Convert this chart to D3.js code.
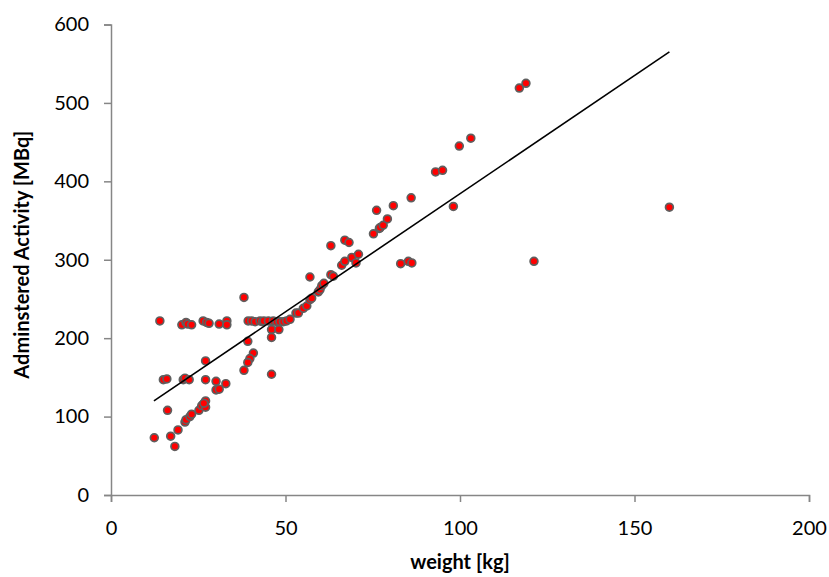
<!DOCTYPE html>
<html>
<head>
<meta charset="utf-8">
<script src="https://cdn.jsdelivr.net/npm/d3@7"></script>
<style>
  body { margin: 0; background: #fff; }
  text { font-family: Lato, "Open Sans", sans-serif; }
</style>
</head>
<body>
<div id="chart"></div>
<script>
// weight [kg] and administered activity [MBq]
var weight = [14.0, 38.1, 20.3, 21.5, 22.0, 23.1, 26.4, 27.4, 28.1, 31.0, 33.2, 33.2,
    39.3, 40.3, 41.3, 42.7, 43.4, 43.8, 45.1, 46.5, 47.5, 48.4, 49.4, 50.3, 51.3,
    53.0, 53.7, 55.1, 56.1, 57.0, 57.5, 59.4, 59.9, 60.4, 61.0, 57.0, 63.0, 63.7,
    63.0, 67.0, 68.2, 66.1, 67.0, 69.0, 70.9, 70.2, 75.2, 76.1, 76.9, 77.1, 78.0,
    79.2, 80.9, 86.0, 83.0, 85.2, 86.2, 93.0, 95.0, 98.1, 99.8, 103.1, 117.0, 118.9,
    160.0, 121.2,
    39.2, 40.8, 39.8, 39.2, 38.1, 46.0, 46.0, 48.1, 46.0, 27.1,
    15.0, 16.0, 20.7, 21.2, 22.4, 27.1, 30.1, 30.1, 31.0, 32.9,
    16.2, 12.4, 17.1, 18.3, 19.2, 21.2, 21.5, 22.6, 23.1, 25.2, 26.0, 27.1, 27.1, 26.6];
var activity = [222, 252, 217, 220, 218, 217, 222, 220, 219, 218, 222, 217,
    222, 222, 221, 222, 221, 222, 222, 222, 221, 221, 221, 222, 224,
    232, 232, 238, 241, 249, 251, 259, 262, 267, 270, 278, 281, 279,
    318, 325, 322, 293, 298, 303, 307, 296, 333, 363, 340, 341, 344,
    352, 369, 379, 295, 298, 296, 412, 414, 368, 445, 455, 519, 525,
    367, 298,
    196, 181, 174, 169, 159, 154, 211, 211, 201, 171,
    147, 148, 147, 149, 147, 147, 145, 134, 135, 142,
    108, 73, 75, 62, 83, 93, 96, 100, 103, 108, 114, 120, 112, 117];

// linear trend line end points
var trendX = [12.3, 160];
var trendY = [120, 565];

var xTicks = [0, 50, 100, 150, 200];
var yTicks = [0, 100, 200, 300, 400, 500, 600];

var margin = { top: 24.5, right: 20, bottom: 82, left: 111 },
    width = 829 - margin.left - margin.right,
    height = 577 - margin.top - margin.bottom;

var svg = d3.select("#chart")
    .append("svg")
    .attr("width", 829)
    .attr("height", 577)
    .append("g")
    .attr("transform", "translate(" + margin.left + "," + margin.top + ")");

var x = d3.scaleLinear().domain([0, 200]).range([0, width]);
var y = d3.scaleLinear().domain([0, 600]).range([height, 0]);

var axisColor = "#868686";

var xAxis = svg.append("g")
    .attr("transform", "translate(0," + height + ")")
    .call(d3.axisBottom(x).tickValues(xTicks).tickSize(7).tickPadding(19));

var yAxis = svg.append("g")
    .call(d3.axisLeft(y).tickValues(yTicks).tickSize(7).tickPadding(15));

[xAxis, yAxis].forEach(function(g) {
    g.select(".domain").attr("stroke", axisColor).attr("stroke-width", 1.5);
    g.selectAll(".tick line").attr("stroke", axisColor).attr("stroke-width", 1.5);
    g.selectAll(".tick text")
        .attr("fill", "#000")
        .style("font-size", "20px")
        .style("font-family", "Lato, sans-serif");
});

svg.append("text")
    .attr("text-anchor", "middle")
    .attr("x", width / 2)
    .attr("y", height + 74)
    .style("font-size", "20px")
    .style("font-weight", "bold")
    .text("weight [kg]");

svg.append("text")
    .attr("text-anchor", "middle")
    .attr("transform", "rotate(-90)")
    .attr("x", -height / 2 + 5)
    .attr("y", -82)
    .style("font-size", "20px")
    .style("font-weight", "bold")
    .text("Adminstered Activity [MBq]");

var points = weight.map(function(w, i) { return { w: w, a: activity[i] }; });

svg.selectAll("circle")
    .data(points)
    .enter()
    .append("circle")
    .attr("cx", function(d) { return x(d.w); })
    .attr("cy", function(d) { return y(d.a); })
    .attr("r", 3.9)
    .attr("fill", "#ff0000")
    .attr("stroke", "#5f5f5f")
    .attr("stroke-width", 1.7);

var trend = trendX.map(function(v, i) { return { w: v, a: trendY[i] }; });

svg.append("path")
    .datum(trend)
    .attr("fill", "none")
    .attr("stroke", "#000")
    .attr("stroke-width", 1.6)
    .attr("d", d3.line()
        .x(function(d) { return x(d.w); })
        .y(function(d) { return y(d.a); })
    );
</script>
</body>
</html>
